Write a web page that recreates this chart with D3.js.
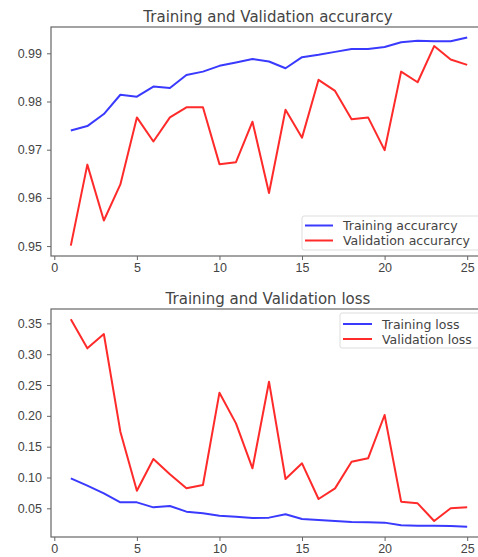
<!DOCTYPE html>
<html>
<head>
<meta charset="utf-8">
<script src="https://cdn.jsdelivr.net/npm/d3@7"></script>
<style>
  body { margin: 0; background: #fff; }
  svg { display: block; font-family: "DejaVu Sans", sans-serif; }
</style>
</head>
<body>
<div id="chart"></div>
<script>
// epochs 1..25
const epochs = d3.range(1, 26);

const trainAcc = [0.9740, 0.9749, 0.9774, 0.9814, 0.9810, 0.9831, 0.9828, 0.9855, 0.9862, 0.9874,
                  0.9881, 0.9888, 0.9883, 0.9869, 0.9892, 0.9897, 0.9903, 0.9909, 0.9909, 0.9913,
                  0.9923, 0.9926, 0.9925, 0.9925, 0.9933];
const valAcc = [0.9501, 0.9669, 0.9553, 0.9628, 0.9767, 0.9717, 0.9767, 0.9788, 0.9788, 0.9670,
                0.9674, 0.9758, 0.9610, 0.9783, 0.9725, 0.9845, 0.9822, 0.9763, 0.9767, 0.9699,
                0.9862, 0.9840, 0.9915, 0.9887, 0.9876];
const trainLoss = [0.0986, 0.0868, 0.0743, 0.0597, 0.0597, 0.0516, 0.0538, 0.0446, 0.0419, 0.0381,
                   0.0365, 0.0343, 0.0349, 0.0403, 0.0327, 0.0311, 0.0295, 0.0278, 0.0273, 0.0268,
                   0.0224, 0.0219, 0.0219, 0.0214, 0.0203];
const valLoss = [0.3565, 0.3095, 0.3327, 0.1743, 0.0786, 0.1300, 0.1051, 0.0824, 0.0878, 0.2376,
                 0.1878, 0.1149, 0.2554, 0.0976, 0.1230, 0.0651, 0.0824, 0.1257, 0.1311, 0.2014,
                 0.0608, 0.0581, 0.0295, 0.0500, 0.0516];

const xTicks = [0, 5, 10, 15, 20, 25];
const accTicks = [0.95, 0.96, 0.97, 0.98, 0.99];
const lossTicks = [0.05, 0.10, 0.15, 0.20, 0.25, 0.30, 0.35];

const W = 478, H = 557;
const svg = d3.select("#chart").append("svg")
    .attr("width", W).attr("height", H);

function panel(opts) {
    const left = 51, right = 487;
    const x = d3.scaleLinear().domain([-0.2, 26.2]).range([left, right]);

    const all = opts.series[0].values.concat(opts.series[1].values);
    const lo = d3.min(all), hi = d3.max(all), pad = (hi - lo) * 0.05;
    const y = d3.scaleLinear().domain([lo - pad, hi + pad]).range([opts.bottom, opts.top]);

    const g = svg.append("g");

    // frame
    g.append("rect")
        .attr("x", left).attr("y", opts.top)
        .attr("width", right - left).attr("height", opts.bottom - opts.top)
        .attr("fill", "none").attr("stroke", "#666").attr("stroke-width", 1.2);

    const xAxis = g.append("g")
        .attr("transform", "translate(0," + opts.bottom + ")")
        .call(d3.axisBottom(x).tickValues(xTicks).tickSize(4).tickPadding(3).tickFormat(d3.format("d")));
    const yAxis = g.append("g")
        .attr("transform", "translate(" + left + ",0)")
        .call(d3.axisLeft(y).tickValues(opts.ticks).tickSize(4).tickPadding(5).tickFormat(d3.format(opts.fmt)));
    [xAxis, yAxis].forEach(a => {
        a.select(".domain").remove();
        a.selectAll("line").attr("stroke", "#666");
        a.selectAll("text").attr("fill", "#444").style("font-size", "12.5px");
    });

    // title
    g.append("text")
        .attr("x", (left + right) / 2 - 1).attr("y", opts.top - 5)
        .attr("text-anchor", "middle")
        .attr("fill", "#444")
        .style("font-size", "15px")
        .text(opts.title);

    const line = d3.line()
        .x((d, i) => x(epochs[i]))
        .y(d => y(d));

    opts.series.forEach(s => {
        g.append("path")
            .datum(s.values)
            .attr("fill", "none")
            .attr("stroke", s.color)
            .attr("stroke-width", 2)
            .attr("stroke-linejoin", "round")
            .attr("d", line);
    });

    // legend
    const L = opts.legend;
    const lg = g.append("g").attr("transform", "translate(" + L.x + "," + L.y + ")");
    lg.append("rect")
        .attr("x", 0).attr("y", 0).attr("width", 200).attr("height", L.h)
        .attr("rx", 2)
        .attr("fill", "#fff").attr("stroke", "#ddd");
    opts.series.forEach((s, i) => {
        const yy = L.row0 + i * 15;
        lg.append("line")
            .attr("x1", L.l0).attr("x2", L.l1).attr("y1", yy).attr("y2", yy)
            .attr("stroke", s.color).attr("stroke-width", 2);
        lg.append("text")
            .attr("x", L.tx).attr("y", yy + 4.5)
            .attr("fill", "#444")
            .style("font-size", "12.5px")
            .text(s.name);
    });
}

panel({
    title: "Training and Validation accurarcy",
    top: 27, bottom: 256,
    ticks: accTicks, fmt: ".2f",
    legend: {x: 302, y: 216, h: 34, row0: 9.5, l0: 3, l1: 31, tx: 41},
    series: [
        {name: "Training accurarcy", values: trainAcc, color: "#3a3aff"},
        {name: "Validation accurarcy", values: valAcc, color: "#ff2a2a"}
    ]
});

panel({
    title: "Training and Validation loss",
    top: 309, bottom: 537,
    ticks: lossTicks, fmt: ".2f",
    legend: {x: 340, y: 313, h: 35, row0: 11, l0: 3, l1: 32, tx: 42},
    series: [
        {name: "Training loss", values: trainLoss, color: "#3a3aff"},
        {name: "Validation loss", values: valLoss, color: "#ff2a2a"}
    ]
});
</script>
</body>
</html>
